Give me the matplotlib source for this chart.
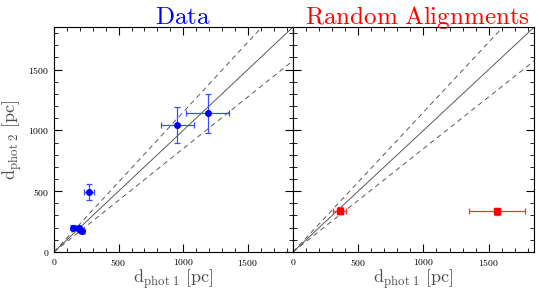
import matplotlib
matplotlib.use("Agg")
import matplotlib.pyplot as plt
from matplotlib.ticker import MultipleLocator
import numpy as np

plt.rcParams['font.family'] = 'serif'
plt.rcParams['font.serif'] = ['cmr10']
plt.rcParams['mathtext.fontset'] = 'cm'
plt.rcParams['axes.formatter.use_mathtext'] = True

# Data panel
data_x = [150, 190, 205, 215, 270, 955, 1190]
data_y = [200, 195, 182, 175, 492, 1045, 1140]
data_xerr = [18, 15, 15, 15, 40, 130, 165]
data_yerr = [18, 15, 15, 15, 68, 145, 158]

# Random alignments panel
rand_x = [360, 1565]
rand_y = [340, 335]
rand_xerr = [50, 215]
rand_yerr = [30, 30]

lim = 1850
ratio_hi = 1.15
ratio_lo = 0.85

fig = plt.figure(figsize=(5.4, 2.94), dpi=100)
ax1 = fig.add_axes([0.1, 0.143, 0.4426, 0.765])
ax2 = fig.add_axes([0.5426, 0.143, 0.4469, 0.765])

line_x = np.array([0, lim])
for ax in (ax1, ax2):
    ax.plot(line_x, line_x, color='0.35', lw=0.7)
    ax.plot(line_x, line_x * ratio_hi, color='0.35', lw=0.7, ls=(0, (5, 4)))
    ax.plot(line_x, line_x * ratio_lo, color='0.35', lw=0.7, ls=(0, (5, 4)))
    ax.set_xlim(0, lim)
    ax.set_ylim(0, lim)
    ax.xaxis.set_major_locator(MultipleLocator(500))
    ax.yaxis.set_major_locator(MultipleLocator(500))
    ax.xaxis.set_minor_locator(MultipleLocator(100))
    ax.yaxis.set_minor_locator(MultipleLocator(100))
    ax.tick_params(which='both', direction='in', top=True, right=True, labelsize=7)
    ax.tick_params(which='major', length=6, width=0.8)
    ax.tick_params(which='minor', length=3, width=0.6)
    for s in ax.spines.values():
        s.set_linewidth(0.8)
    ax.set_xlabel(r'$\mathrm{d_{phot\ 1}\ [pc]}$', fontsize=13, color='0.3', labelpad=0)

ax1.errorbar(data_x, data_y, xerr=data_xerr, yerr=data_yerr, fmt='o', color='blue',
             ms=4, elinewidth=0.9, capsize=2, capthick=0.9, ecolor='#3a4cff')
ax2.errorbar(rand_x, rand_y, xerr=rand_xerr, yerr=rand_yerr, fmt='s', color='red',
             ms=4, elinewidth=0.9, capsize=2, capthick=0.9, ecolor='#ff3030')

ax1.set_ylabel(r'$\mathrm{d_{phot\ 2}\ [pc]}$', fontsize=13, color='0.3', labelpad=2)
ax2.tick_params(labelleft=False)

fig.text(183 / 540, 1 - 24 / 294, r'$\mathrm{Data}$', color='blue', fontsize=18,
         ha='center', va='baseline')
fig.text(417 / 540, 1 - 24 / 294, r'$\mathrm{Random\ Alignments}$', color='red', fontsize=18,
         ha='center', va='baseline')

fig.savefig('out.png', dpi=100)
